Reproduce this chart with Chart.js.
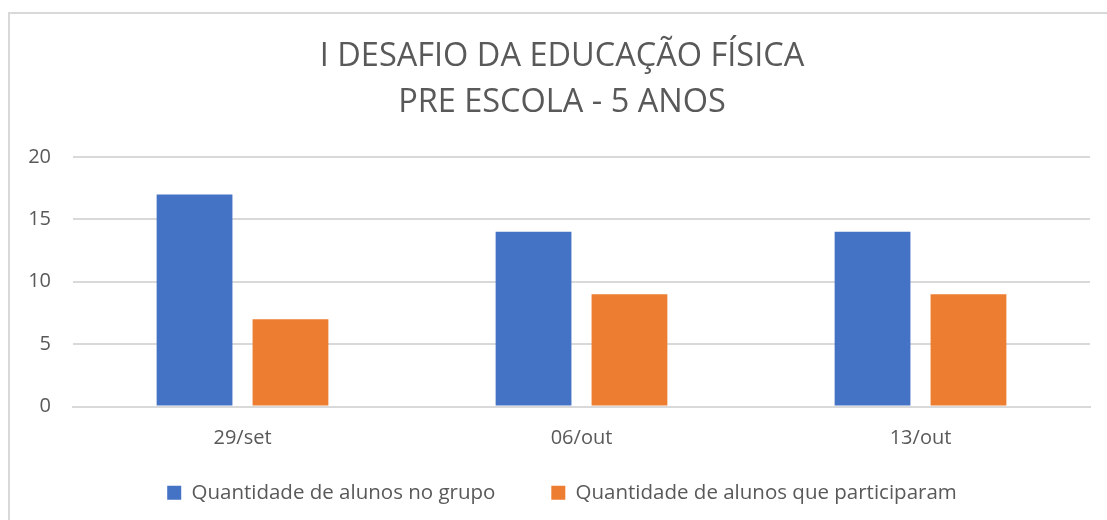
<!DOCTYPE html>
<html>
<head>
<meta charset="utf-8">
<script src="https://cdn.jsdelivr.net/npm/chart.js@4/dist/chart.umd.min.js"></script>
<style>
    html, body { margin: 0; padding: 0; background: #fff; }
    #wrap { position: relative; width: 1107px; height: 520px; overflow: hidden; }
    #frame {
        position: absolute; left: 8px; top: 12px; width: 1120px; height: 540px;
        border: 2px solid #d9d9d9; box-sizing: border-box;
    }
    canvas { position: absolute; left: 0; top: 0; }
</style>
</head>
<body>
<div id="wrap">
    <div id="frame"></div>
    <canvas id="chart" width="1120" height="520"></canvas>
</div>
<script>
// データ
const categories = ['29/set', '06/out', '13/out'];
const seriesNames = ['Quantidade de alunos no grupo', 'Quantidade de alunos que participaram'];
const alunosNoGrupo = [17, 14, 14];
const alunosParticiparam = [7, 9, 9];
const titleLines = ['I DESAFIO DA EDUCAÇÃO FÍSICA', 'PRE ESCOLA - 5 ANOS'];

const TEXT_COLOR = '#595959';
const GRID_COLOR = '#d9d9d9';
const FONT = "'Open Sans', 'Noto Sans', sans-serif";

const ctx = document.getElementById('chart');

new Chart(ctx, {
    type: 'bar',
    data: {
        labels: categories,
        datasets: [
            {
                label: seriesNames[0],
                data: alunosNoGrupo,
                backgroundColor: '#4472C4',
                borderWidth: 0
            },
            {
                label: seriesNames[1],
                data: alunosParticiparam,
                backgroundColor: '#ED7D31',
                borderWidth: 0
            }
        ]
    },
    options: {
        responsive: false,
        animation: false,
        categoryPercentage: 0.566,
        barPercentage: 0.79,
        layout: {
            padding: { left: 4, right: 0, top: 34, bottom: 7 }
        },
        plugins: {
            title: {
                display: true,
                text: titleLines,
                color: TEXT_COLOR,
                font: { family: FONT, size: 32.5, weight: 'normal', lineHeight: 1.4 },
                padding: { top: 0, bottom: 32 }
            },
            legend: {
                position: 'bottom',
                labels: {
                    color: TEXT_COLOR,
                    font: { family: FONT, size: 20.5 },
                    boxWidth: 14,
                    boxHeight: 14,
                    padding: 20,
                    // 凡例項目の間隔を広げるため末尾にスペースを足す
                    generateLabels: function(chart) {
                        const items = Chart.defaults.plugins.legend.labels.generateLabels(chart);
                        items.forEach((item, i) => {
                            if (i < items.length - 1) item.text = item.text + '\u2002\u2002\u2002\u2005';
                        });
                        return items;
                    }
                }
            },
            tooltip: { enabled: false }
        },
        scales: {
            x: {
                grid: { display: false },
                border: { color: GRID_COLOR, width: 2 },
                ticks: {
                    color: TEXT_COLOR,
                    font: { family: FONT, size: 20 },
                    padding: 12
                }
            },
            y: {
                min: 0,
                max: 20,
                grid: { color: GRID_COLOR, lineWidth: 2, drawTicks: false },
                border: { display: false },
                ticks: {
                    stepSize: 5,
                    color: TEXT_COLOR,
                    font: { family: FONT, size: 20 },
                    padding: 22
                },
                // 軸の幅を固定してプロット領域の左端を合わせる
                afterFit: function(scale) {
                    scale.width = 69;
                }
            },
            // 右側の余白用(表示なし)
            yPad: {
                type: 'linear',
                position: 'right',
                grid: { display: false },
                border: { display: false },
                ticks: { display: false },
                afterFit: function(scale) {
                    scale.width = 30;
                }
            }
        }
    }
});
</script>
</body>
</html>
